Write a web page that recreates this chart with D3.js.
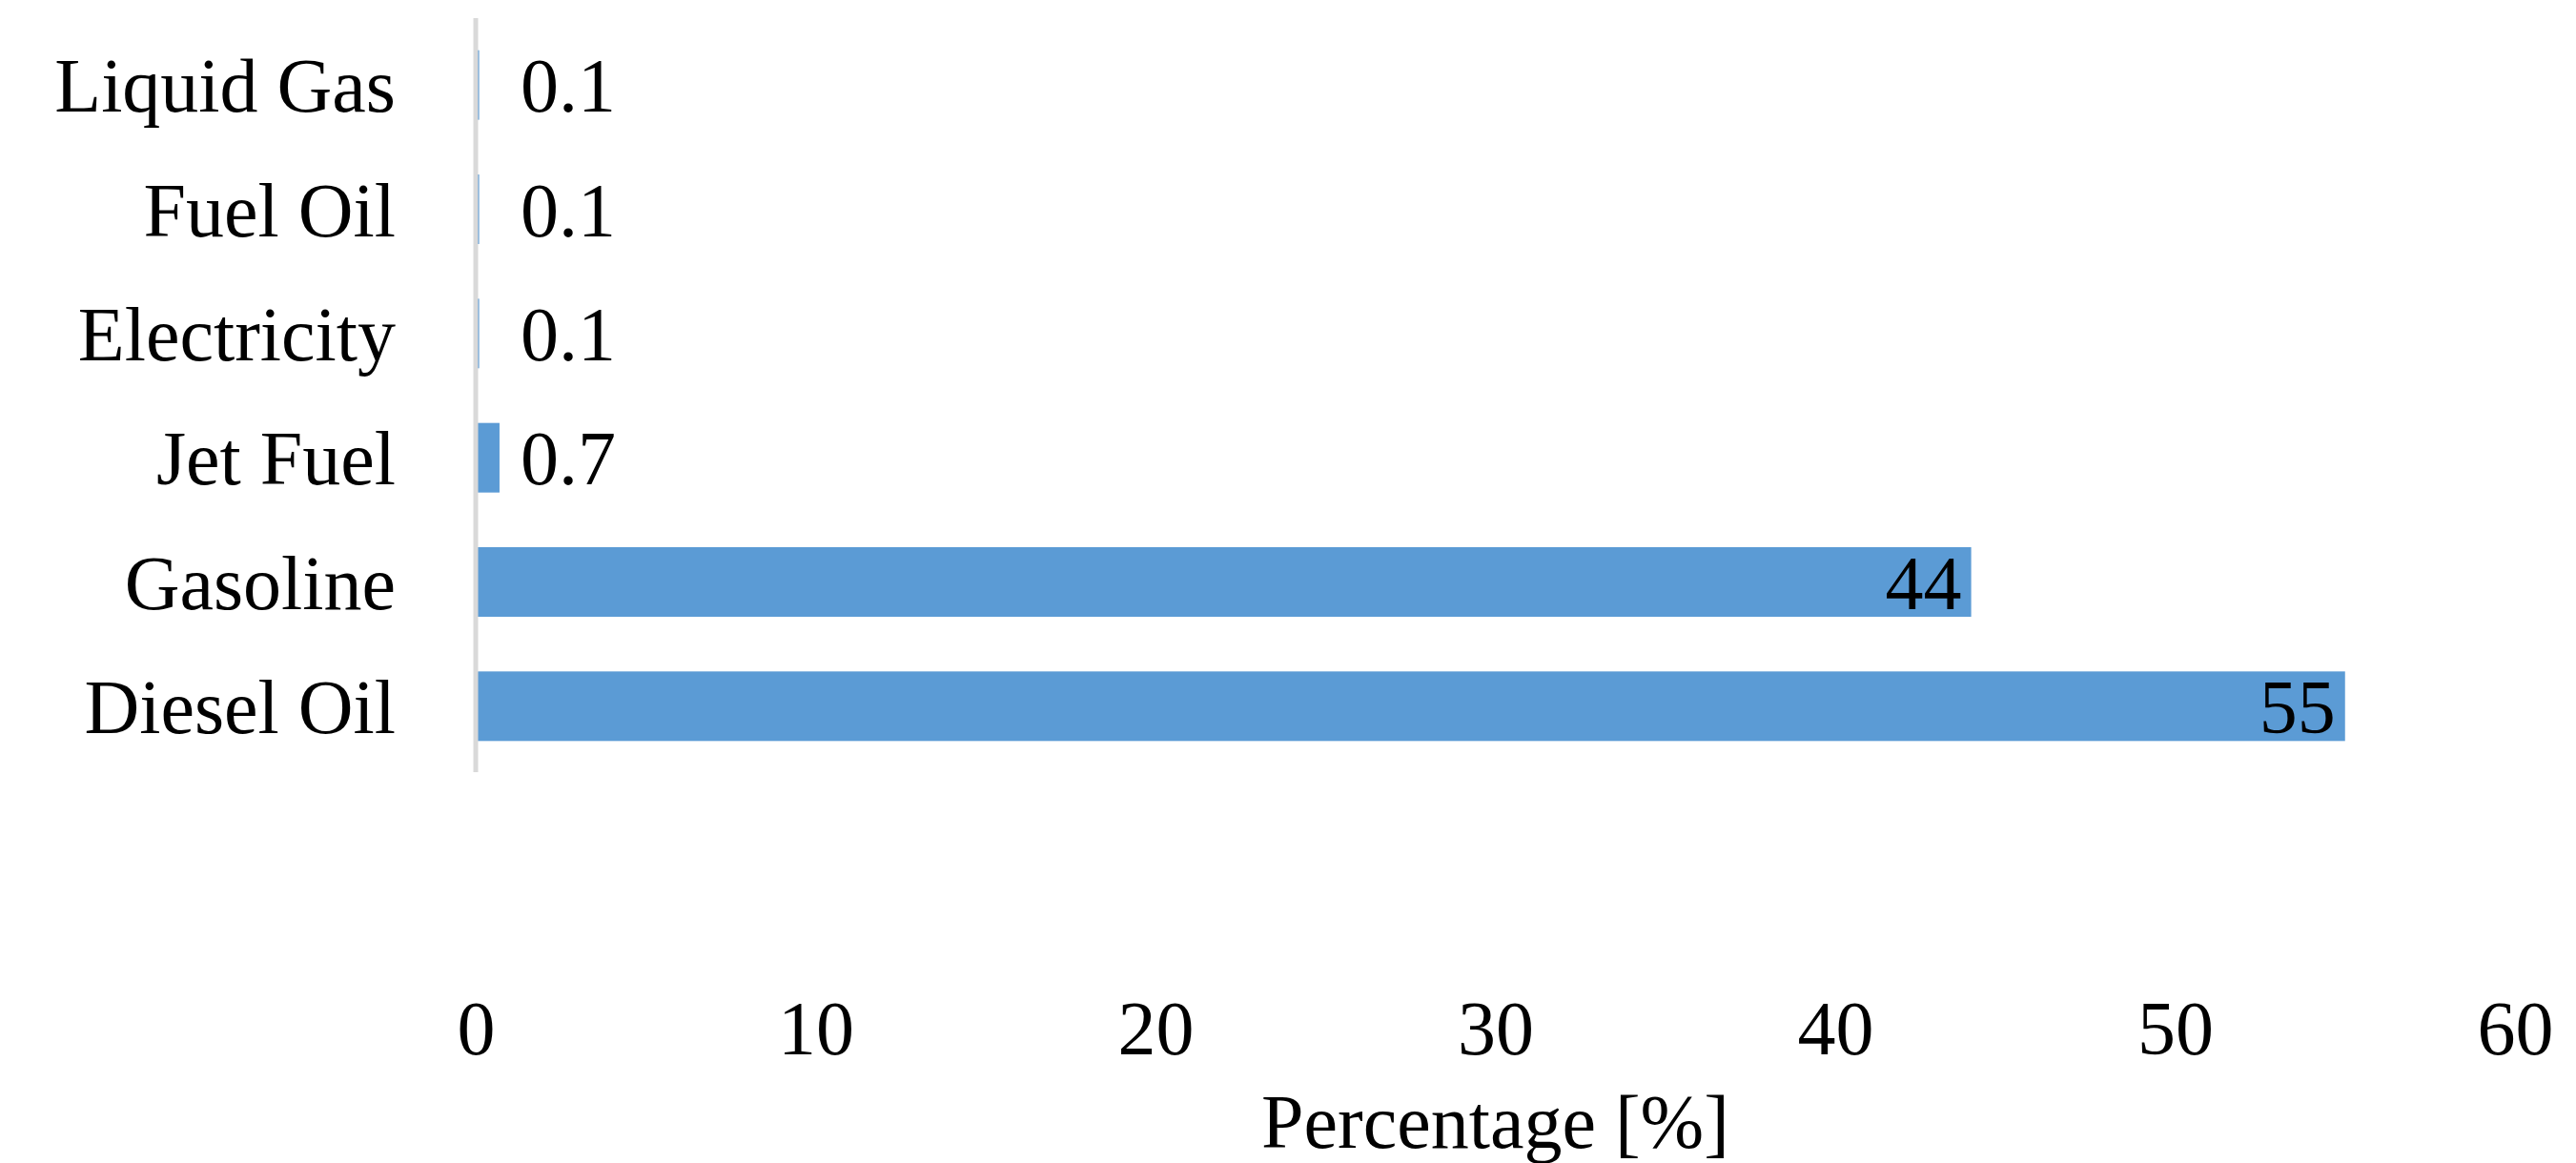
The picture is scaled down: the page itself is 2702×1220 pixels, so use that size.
<!DOCTYPE html><html><head><meta charset="utf-8">
<script src="https://cdn.jsdelivr.net/npm/d3@7"></script>
<style>body{margin:0;background:#fff}text{font-family:"Palatino Linotype","Book Antiqua","Liberation Serif",serif;fill:#000}</style>
</head><body><svg id="c" width="2702" height="1220"></svg><script>
const categories=["Liquid Gas","Fuel Oil","Electricity","Jet Fuel","Gasoline","Diesel Oil"];
const values=[0.1,0.1,0.1,0.7,44,55];
const labels=["0.1","0.1","0.1","0.7","44","55"];
const ticks=[0,10,20,30,40,50,60];
const svg=d3.select("#c");
const x=d3.scaleLinear().domain([0,60]).range([499,2638]);
const y=d3.scaleBand().domain(categories).range([24,806]).paddingInner(0.44).paddingOuter(0.22);
const fs=80;
svg.selectAll("rect.bar").data(values).join("rect").attr("class","bar")
 .attr("x",x(0)).attr("y",(d,i)=>y(categories[i])).attr("width",d=>x(d)-x(0)).attr("height",y.bandwidth()).attr("fill","#5B9BD5");
svg.append("line").attr("x1",x(0)).attr("x2",x(0)).attr("y1",19).attr("y2",810).attr("stroke","#d9d9d9").attr("stroke-width",5);
svg.selectAll("text.cat").data(categories).join("text").attr("class","cat")
 .attr("x",415).attr("y",d=>y(d)+y.bandwidth()/2).attr("dy","0.35em").attr("text-anchor","end").attr("font-size",fs).text(d=>d);
svg.selectAll("text.val").data(values).join("text").attr("class","val")
 .attr("x",(d,i)=>d>5?x(d)-10:x(0.7)+22).attr("text-anchor",d=>d>5?"end":"start")
 .attr("y",(d,i)=>y(categories[i])+y.bandwidth()/2).attr("dy","0.35em").attr("font-size",fs).text((d,i)=>labels[i]);
const ax=svg.append("g").attr("transform","translate(0,1078)").call(d3.axisBottom(x).tickValues(ticks).tickSize(0).tickPadding(0));
ax.select(".domain").remove();
ax.selectAll("text").attr("font-size",fs).attr("dy","0.35em").style("font-family",null);
svg.append("text").attr("x",(x(0)+x(60))/2).attr("y",1176).attr("dy","0.35em").attr("text-anchor","middle").attr("font-size",fs).text("Percentage [%]");
</script></body></html>
